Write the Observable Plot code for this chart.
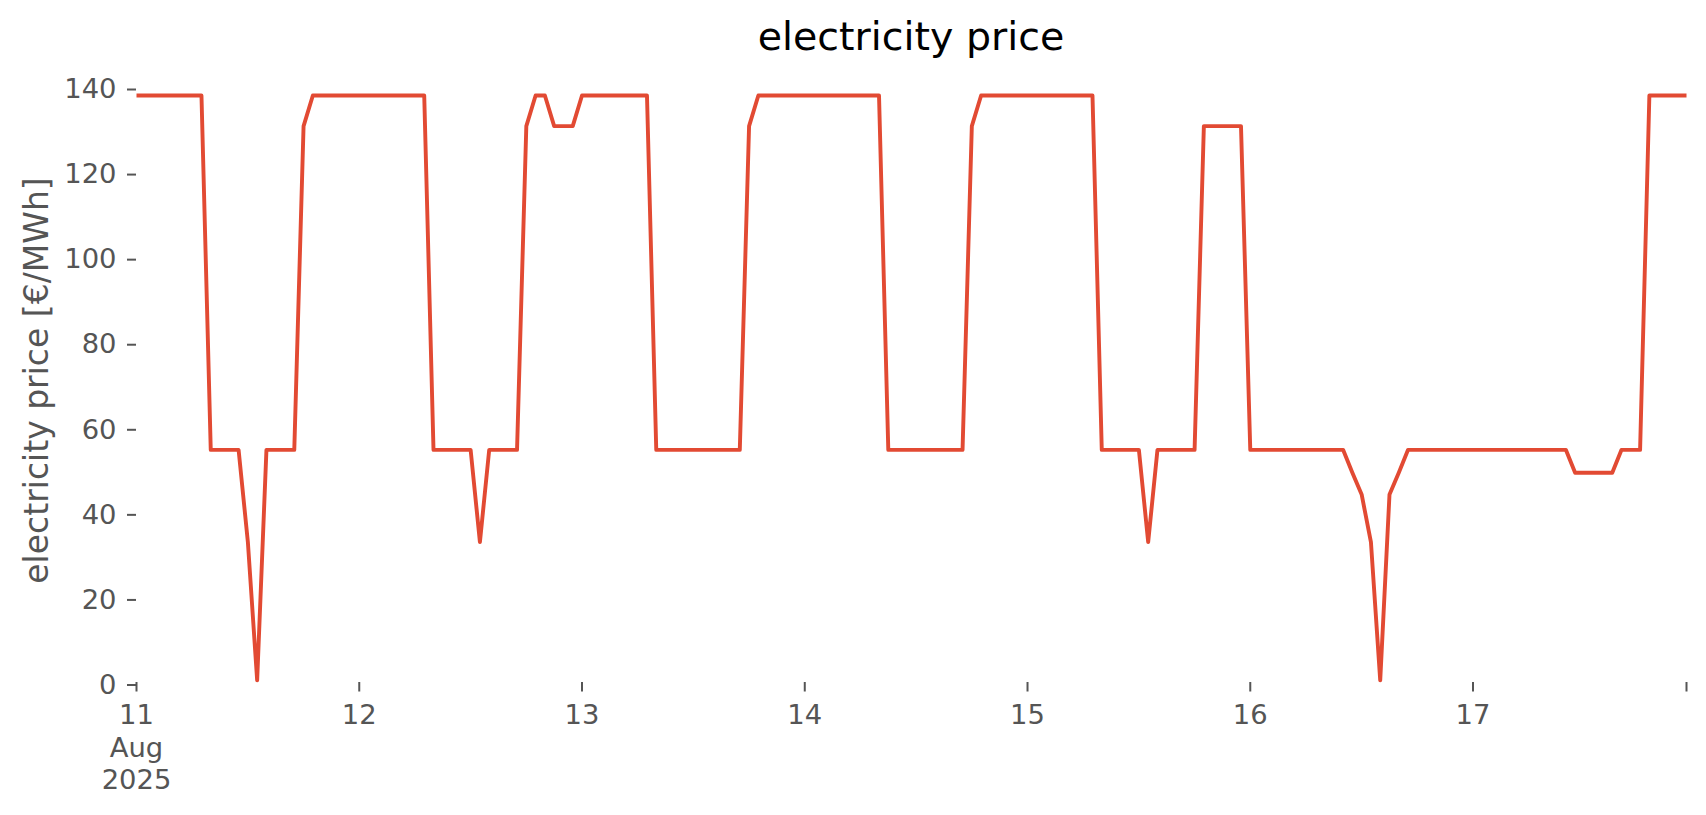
<!DOCTYPE html>
<html>
<head>
<meta charset="utf-8">
<script src="https://cdn.jsdelivr.net/npm/d3@7"></script>
<script src="https://cdn.jsdelivr.net/npm/@observablehq/plot@0.6"></script>
<style>
  html, body { margin: 0; padding: 0; background: #ffffff; }
  #wrap { position: relative; width: 1706px; height: 815px; font-family: "DejaVu Sans", sans-serif; }
  #title { position: absolute; left: 136px; width: 1550px; top: 17px; text-align: center;
           font-size: 39.5px; line-height: 1; color: #000; }
  #chart { position: absolute; left: 0; top: 0; }
</style>
</head>
<body>
<div id="wrap">
  <div id="chart"></div>
  <div id="title">electricity price</div>
</div>
<script>
// Hourly electricity price [€/MWh], one array per day (00:00 .. 23:00)
const startDay = Date.UTC(2025, 7, 11); // 11 Aug 2025 00:00
const aug11 = [138, 138, 138, 138, 138, 138, 138, 138, 54.7, 54.7, 54.7, 54.7, 33, 0.5, 54.7, 54.7, 54.7, 54.7, 130.8, 138, 138, 138, 138, 138];
const aug12 = [138, 138, 138, 138, 138, 138, 138, 138, 54.7, 54.7, 54.7, 54.7, 54.7, 33, 54.7, 54.7, 54.7, 54.7, 130.8, 138, 138, 130.8, 130.8, 130.8];
const aug13 = [138, 138, 138, 138, 138, 138, 138, 138, 54.7, 54.7, 54.7, 54.7, 54.7, 54.7, 54.7, 54.7, 54.7, 54.7, 130.8, 138, 138, 138, 138, 138];
const aug14 = [138, 138, 138, 138, 138, 138, 138, 138, 138, 54.7, 54.7, 54.7, 54.7, 54.7, 54.7, 54.7, 54.7, 54.7, 130.8, 138, 138, 138, 138, 138];
const aug15 = [138, 138, 138, 138, 138, 138, 138, 138, 54.7, 54.7, 54.7, 54.7, 54.7, 33, 54.7, 54.7, 54.7, 54.7, 54.7, 130.8, 130.8, 130.8, 130.8, 130.8];
const aug16 = [54.7, 54.7, 54.7, 54.7, 54.7, 54.7, 54.7, 54.7, 54.7, 54.7, 54.7, 49.3, 44.2, 33, 0.5, 44.2, 49.3, 54.7, 54.7, 54.7, 54.7, 54.7, 54.7, 54.7];
const aug17 = [54.7, 54.7, 54.7, 54.7, 54.7, 54.7, 54.7, 54.7, 54.7, 54.7, 54.7, 49.3, 49.3, 49.3, 49.3, 49.3, 54.7, 54.7, 54.7, 138, 138, 138, 138, 138];

const yTicks = [0, 20, 40, 60, 80, 100, 120, 140];
const xTickLabels = ["11\nAug\n2025", "12", "13", "14", "15", "16", "17", ""];
const yLabel = "electricity price [€/MWh]";

const prices = [...aug11, ...aug12, ...aug13, ...aug14, ...aug15, ...aug16, ...aug17];
const HOUR = 3600 * 1000;
const records = prices.map((p, i) => ({ time: new Date(startDay + i * HOUR), price: p }));

const lastTime = records[records.length - 1].time;
const xTicks = d3.utcDay.range(records[0].time, lastTime).concat([lastTime]);
const labelByTime = new Map(xTicks.map((d, i) => [+d, xTickLabels[i]]));

const grey = "#555555";
const chart = Plot.plot({
  width: 1706,
  height: 815,
  marginLeft: 136,
  marginRight: 20,
  marginTop: 78,
  marginBottom: 133,
  style: { fontFamily: "DejaVu Sans, sans-serif", background: "#ffffff", color: grey },
  x: { type: "utc", domain: [records[0].time, lastTime] },
  y: { domain: [0, 142] },
  marks: [
    Plot.axisY({
      ticks: yTicks, tickSize: 9, tickPadding: 11, fontSize: 27.4,
      stroke: grey, fill: grey, strokeWidth: 2, dy: 2.5, label: null
    }),
    Plot.axisX({
      ticks: xTicks, tickFormat: d => labelByTime.get(+d), tickSize: 9.5, tickPadding: 8.8,
      fontSize: 27.4, lineHeight: 1.19, stroke: grey, fill: grey, strokeWidth: 2, label: null
    }),
    Plot.text([yLabel], {
      text: d => d, frameAnchor: "left", rotate: -90, dx: -99,
      fontSize: 33, fill: grey, textAnchor: "middle"
    }),
    Plot.lineY(records, {
      x: "time", y: "price", stroke: "#E24A33", strokeWidth: 3.9,
      strokeLinejoin: "round", strokeLinecap: "butt"
    })
  ]
});
document.getElementById("chart").appendChild(chart);
</script>
</body>
</html>
